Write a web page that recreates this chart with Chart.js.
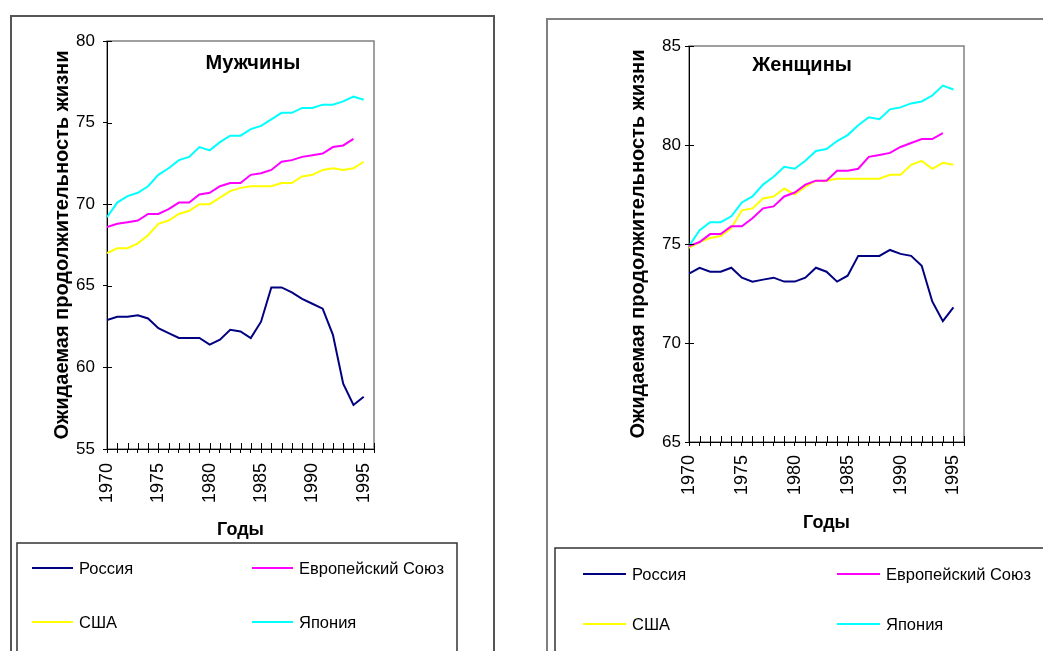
<!DOCTYPE html>
<html>
<head>
<meta charset="utf-8">
<script src="https://cdn.jsdelivr.net/npm/chart.js@4.4.0/dist/chart.umd.min.js"></script>
<style>
  body { margin: 0; background: #fff; width: 1043px; height: 651px; overflow: hidden; position: relative; }
  .panel { position: absolute; top: 0; height: 651px; }
  .frame { position: absolute; box-sizing: border-box; border: 2px solid #555; }
</style>
</head>
<body>
<div class="frame" style="left:10px;top:15px;width:485px;height:700px"></div>
<div class="frame" style="left:546px;top:18px;width:600px;height:700px;border-color:#808080"></div>
<div class="panel" style="left:0;width:520px"><canvas id="men"></canvas></div>
<div class="panel" style="left:520px;width:523px"><canvas id="women"></canvas></div>
<script>
// years on the x axis (axis itself runs to 1996)
var years = [1970, 1971, 1972, 1973, 1974, 1975, 1976, 1977, 1978, 1979, 1980, 1981, 1982,
             1983, 1984, 1985, 1986, 1987, 1988, 1989, 1990, 1991, 1992, 1993, 1994, 1995];
var names = ['Россия', 'Европейский Союз', 'США', 'Япония'];
var colors = ['#000080', '#ff00ff', '#ffff00', '#00ffff'];

// men
var menRussia = [62.9, 63.1, 63.1, 63.2, 63.0, 62.4, 62.1, 61.8, 61.8, 61.8, 61.4, 61.7, 62.3,
                 62.2, 61.8, 62.8, 64.9, 64.9, 64.6, 64.2, 63.9, 63.6, 62.0, 59.0, 57.7, 58.2];
var menEU = [68.6, 68.8, 68.9, 69.0, 69.4, 69.4, 69.7, 70.1, 70.1, 70.6, 70.7, 71.1, 71.3,
             71.3, 71.8, 71.9, 72.1, 72.6, 72.7, 72.9, 73.0, 73.1, 73.5, 73.6, 74.0];
var menUSA = [67.0, 67.3, 67.3, 67.6, 68.1, 68.8, 69.0, 69.4, 69.6, 70.0, 70.0, 70.4, 70.8,
              71.0, 71.1, 71.1, 71.1, 71.3, 71.3, 71.7, 71.8, 72.1, 72.2, 72.1, 72.2, 72.6];
var menJapan = [69.2, 70.1, 70.5, 70.7, 71.1, 71.8, 72.2, 72.7, 72.9, 73.5, 73.3, 73.8, 74.2,
                74.2, 74.6, 74.8, 75.2, 75.6, 75.6, 75.9, 75.9, 76.1, 76.1, 76.3, 76.6, 76.4];

// women
var womenRussia = [73.5, 73.8, 73.6, 73.6, 73.8, 73.3, 73.1, 73.2, 73.3, 73.1, 73.1, 73.3, 73.8,
                   73.6, 73.1, 73.4, 74.4, 74.4, 74.4, 74.7, 74.5, 74.4, 73.9, 72.1, 71.1, 71.8];
var womenEU = [74.9, 75.1, 75.5, 75.5, 75.9, 75.9, 76.3, 76.8, 76.9, 77.4, 77.6, 78.0, 78.2,
               78.2, 78.7, 78.7, 78.8, 79.4, 79.5, 79.6, 79.9, 80.1, 80.3, 80.3, 80.6];
var womenUSA = [74.8, 75.1, 75.3, 75.4, 75.8, 76.7, 76.8, 77.3, 77.4, 77.8, 77.5, 77.9, 78.2,
                78.2, 78.3, 78.3, 78.3, 78.3, 78.3, 78.5, 78.5, 79.0, 79.2, 78.8, 79.1, 79.0];
var womenJapan = [74.9, 75.7, 76.1, 76.1, 76.4, 77.1, 77.4, 78.0, 78.4, 78.9, 78.8, 79.2, 79.7,
                  79.8, 80.2, 80.5, 81.0, 81.4, 81.3, 81.8, 81.9, 82.1, 82.2, 82.5, 83.0, 82.8];

var FONT = "'Liberation Sans', Arial, sans-serif";

// plot frame, inner tick marks, in-plot title and the 2x2 legend
var decor = {
  id: 'decor',
  beforeDraw: function (chart) {
    var ctx = chart.ctx, a = chart.chartArea;
    ctx.save();
    ctx.strokeStyle = '#808080';
    ctx.lineWidth = 1.5;
    ctx.strokeRect(a.left, a.top, a.right - a.left, a.bottom - a.top);
    ctx.restore();
  },
  afterDraw: function (chart, args, o) {
    var ctx = chart.ctx, a = chart.chartArea;
    var sx = chart.scales.x, sy = chart.scales.y;
    ctx.save();
    ctx.strokeStyle = '#000';
    ctx.lineWidth = 1;
    ctx.beginPath();
    sy.ticks.forEach(function (t) {
      var y = Math.round(sy.getPixelForValue(t.value)) + 0.5;
      ctx.moveTo(a.left, y); ctx.lineTo(a.left + 5, y);
    });
    sx.ticks.forEach(function (t) {
      var x = Math.round(sx.getPixelForValue(t.value)) + 0.5;
      ctx.moveTo(x, a.bottom); ctx.lineTo(x, a.bottom - 6);
    });
    ctx.stroke();

    ctx.fillStyle = '#000';
    ctx.font = 'bold 20px ' + FONT;
    ctx.textAlign = 'center';
    ctx.textBaseline = 'middle';
    ctx.fillText(o.title, o.titleX, o.titleY);

    var L = o.legend;
    ctx.strokeStyle = '#333';
    ctx.lineWidth = 1.5;
    ctx.strokeRect(L.x, L.y, L.w, 200);
    ctx.font = '16.5px ' + FONT;
    ctx.textAlign = 'left';
    chart.data.datasets.forEach(function (ds, i) {
      var col = i % 2, row = Math.floor(i / 2);
      var lx = L.x + L.cols[col], ly = L.y + L.rows[row];
      ctx.strokeStyle = ds.borderColor;
      ctx.lineWidth = 2;
      ctx.beginPath();
      ctx.moveTo(lx, ly); ctx.lineTo(lx + L.len, ly);
      ctx.stroke();
      ctx.fillStyle = '#000';
      ctx.fillText(ds.label, lx + L.len + 6, ly + 1);
    });
    ctx.restore();
  }
};

function makeChart(id, series, yMin, yMax, g) {
  var datasets = names.map(function (name, i) {
    return {
      label: name,
      data: series[i].map(function (v, j) { return { x: years[j], y: v }; }),
      borderColor: colors[i],
      backgroundColor: colors[i],
      borderWidth: 2,
      pointRadius: 0,
      tension: 0,
      fill: false
    };
  });
  return new Chart(document.getElementById(id), {
    type: 'line',
    data: { datasets: datasets },
    options: {
      responsive: true,
      maintainAspectRatio: false,
      animation: false,
      layout: { padding: g.padding },
      plugins: {
        legend: { display: false },
        tooltip: { enabled: false },
        decor: g.decor
      },
      scales: {
        x: {
          type: 'linear', min: 1970, max: 1996,
          afterFit: function (s) { s.height = g.xHeight; },
          ticks: {
            stepSize: 1, autoSkip: false, maxRotation: 90, minRotation: 90,
            padding: g.xPad, color: '#000', font: { family: FONT, size: 18 },
            callback: function (v) { return v % 5 === 0 ? String(v) : ''; }
          },
          grid: { drawOnChartArea: false, color: '#000', tickLength: 4 },
          border: { color: '#000', width: 1 },
          title: {
            display: true, text: 'Годы', color: '#000',
            font: { family: FONT, size: 18, weight: 'bold' },
            padding: { top: 0, bottom: g.xTitlePad }
          }
        },
        y: {
          min: yMin, max: yMax,
          afterFit: function (s) { s.width = g.yWidth; },
          ticks: { stepSize: 5, padding: g.yPad, color: '#000', font: { family: FONT, size: 17 } },
          grid: { drawOnChartArea: false, color: '#000', tickLength: 4 },
          border: { color: '#000', width: 1 },
          title: {
            display: true, text: 'Ожидаемая продолжительность жизни', color: '#000',
            font: { family: FONT, size: 20, weight: 'bold' },
            padding: { top: g.yTitlePad, bottom: 0 }
          }
        }
      }
    },
    plugins: [decor]
  });
}

makeChart('men', [menRussia, menEU, menUSA, menJapan], 55, 80, {
  padding: { left: 0, top: 41, right: 146, bottom: 102 },
  xHeight: 100, xPad: 10, xTitlePad: 8,
  yWidth: 107, yPad: 8, yTitlePad: 50,
  decor: {
    title: 'Мужчины', titleX: 253, titleY: 63,
    legend: { x: 17, y: 543, w: 440, cols: [15, 235], rows: [25, 79], len: 41 }
  }
});

makeChart('women', [womenRussia, womenEU, womenUSA, womenJapan], 65, 85, {
  padding: { left: 0, top: 46, right: 79, bottom: 109 },
  xHeight: 100, xPad: 9, xTitlePad: 8,
  yWidth: 169, yPad: 4, yTitlePad: 106,
  decor: {
    title: 'Женщины', titleX: 282, titleY: 65,
    legend: { x: 35, y: 548, w: 600, cols: [28, 282], rows: [26, 76], len: 43 }
  }
});
</script>
</body>
</html>
